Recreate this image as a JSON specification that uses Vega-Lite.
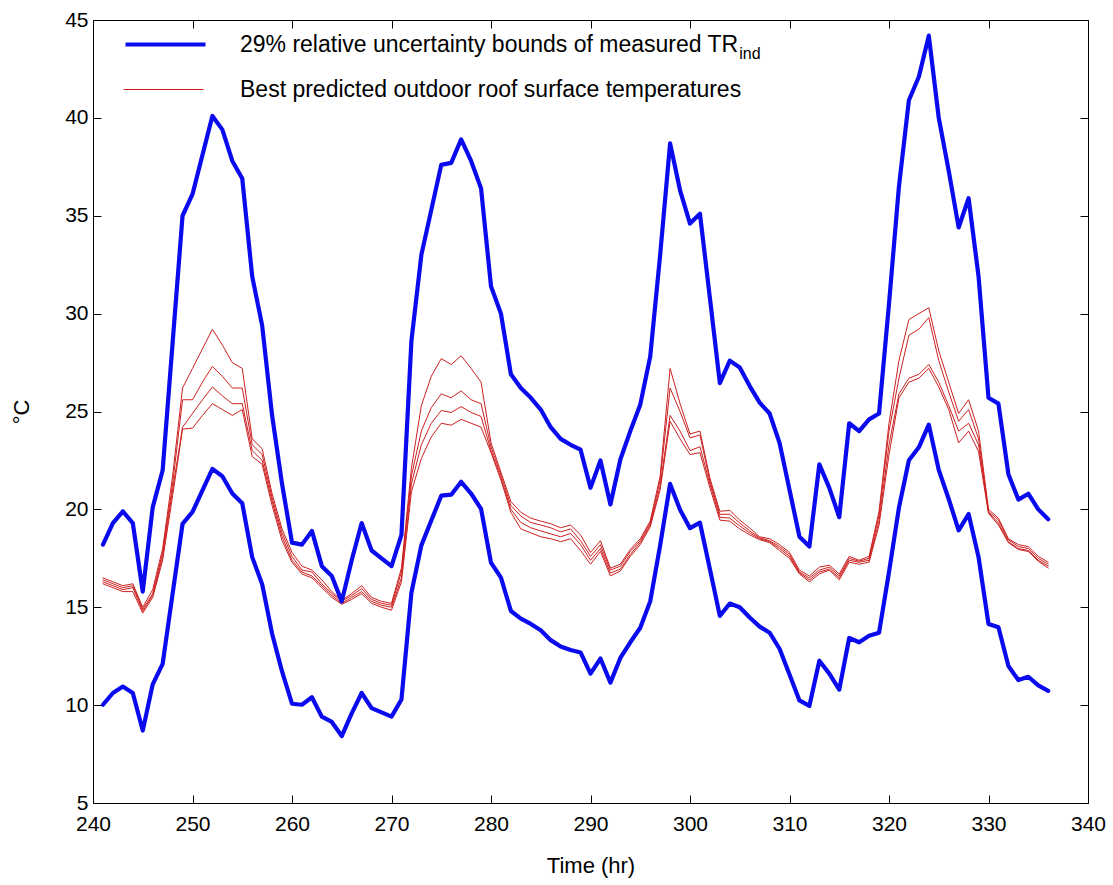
{
  "$schema": "https://vega.github.io/schema/vega-lite/v6.json",
  "autosize": "none",
  "width": 995,
  "height": 783,
  "padding": {"left": 93, "top": 20, "right": 25, "bottom": 82},
  "background": "white",
  "config": {
    "font": "Liberation Sans",
    "view": {"stroke": "black", "strokeWidth": 1},
    "axis": {
      "domainColor": "black", "tickColor": "black", "labelColor": "black", "titleColor": "black",
      "labelFont": "Liberation Sans", "titleFont": "Liberation Sans",
      "labelFontSize": 21, "titleFontSize": 22, "titleFontWeight": "normal",
      "grid": false, "tickSize": -8, "domainWidth": 1, "tickWidth": 1, "labelFlush": false
    }
  },
  "data": {"values": [
    {"t":241,"up":18.2,"lo":10.02,"r1":16.5,"r2":16.4,"r3":16.3,"r4":16.2},
    {"t":242,"up":19.3,"lo":10.62,"r1":16.3,"r2":16.2,"r3":16.1,"r4":16.0},
    {"t":243,"up":19.9,"lo":10.95,"r1":16.1,"r2":16.0,"r3":15.9,"r4":15.8},
    {"t":244,"up":19.3,"lo":10.62,"r1":16.2,"r2":16.1,"r3":16.0,"r4":15.8},
    {"t":245,"up":15.8,"lo":8.70,"r1":15.0,"r2":14.9,"r3":14.8,"r4":14.7},
    {"t":246,"up":20.1,"lo":11.06,"r1":15.9,"r2":15.7,"r3":15.6,"r4":15.5},
    {"t":247,"up":22.0,"lo":12.11,"r1":18.0,"r2":17.8,"r3":17.6,"r4":17.4},
    {"t":248,"up":28.5,"lo":15.69,"r1":21.7,"r2":21.3,"r3":21.0,"r4":20.7},
    {"t":249,"up":35.0,"lo":19.26,"r1":26.2,"r2":25.6,"r3":24.2,"r4":24.1},
    {"t":250,"up":36.1,"lo":19.87,"r1":27.2,"r2":25.6,"r3":24.9,"r4":24.15},
    {"t":251,"up":38.1,"lo":20.97,"r1":28.2,"r2":26.5,"r3":25.6,"r4":24.8},
    {"t":252,"up":40.1,"lo":22.07,"r1":29.2,"r2":27.3,"r3":26.25,"r4":25.4},
    {"t":253,"up":39.4,"lo":21.69,"r1":28.4,"r2":26.8,"r3":25.8,"r4":25.1},
    {"t":254,"up":37.8,"lo":20.81,"r1":27.5,"r2":26.2,"r3":25.4,"r4":24.8},
    {"t":255,"up":36.9,"lo":20.31,"r1":27.2,"r2":26.2,"r3":25.4,"r4":25.1},
    {"t":256,"up":31.9,"lo":17.56,"r1":23.6,"r2":23.3,"r3":23.0,"r4":22.7},
    {"t":257,"up":29.4,"lo":16.18,"r1":23.1,"r2":22.8,"r3":22.5,"r4":22.3},
    {"t":258,"up":24.8,"lo":13.65,"r1":20.8,"r2":20.6,"r3":20.4,"r4":20.2},
    {"t":259,"up":21.3,"lo":11.72,"r1":19.0,"r2":18.8,"r3":18.6,"r4":18.4},
    {"t":260,"up":18.3,"lo":10.07,"r1":17.8,"r2":17.6,"r3":17.4,"r4":17.3},
    {"t":261,"up":18.2,"lo":10.02,"r1":17.1,"r2":16.9,"r3":16.8,"r4":16.7},
    {"t":262,"up":18.9,"lo":10.40,"r1":16.9,"r2":16.8,"r3":16.6,"r4":16.5},
    {"t":263,"up":17.1,"lo":9.41,"r1":16.4,"r2":16.2,"r3":16.1,"r4":16.0},
    {"t":264,"up":16.6,"lo":9.14,"r1":15.8,"r2":15.7,"r3":15.6,"r4":15.5},
    {"t":265,"up":15.3,"lo":8.42,"r1":15.35,"r2":15.3,"r3":15.2,"r4":15.15},
    {"t":266,"up":17.4,"lo":9.58,"r1":15.7,"r2":15.6,"r3":15.5,"r4":15.4},
    {"t":267,"up":19.3,"lo":10.62,"r1":16.1,"r2":15.95,"r3":15.8,"r4":15.7},
    {"t":268,"up":17.9,"lo":9.85,"r1":15.5,"r2":15.4,"r3":15.3,"r4":15.2},
    {"t":269,"up":17.5,"lo":9.63,"r1":15.3,"r2":15.2,"r3":15.1,"r4":15.0},
    {"t":270,"up":17.1,"lo":9.41,"r1":15.2,"r2":15.1,"r3":15.0,"r4":14.85},
    {"t":271,"up":18.7,"lo":10.29,"r1":17.0,"r2":16.8,"r3":16.5,"r4":16.3},
    {"t":272,"up":28.6,"lo":15.74,"r1":22.1,"r2":21.7,"r3":21.3,"r4":20.9},
    {"t":273,"up":33.0,"lo":18.16,"r1":25.3,"r2":24.0,"r3":23.3,"r4":22.6},
    {"t":274,"up":35.3,"lo":19.43,"r1":26.8,"r2":25.2,"r3":24.4,"r4":23.7},
    {"t":275,"up":37.6,"lo":20.70,"r1":27.7,"r2":25.9,"r3":25.05,"r4":24.4},
    {"t":276,"up":37.7,"lo":20.75,"r1":27.4,"r2":25.7,"r3":24.95,"r4":24.3},
    {"t":277,"up":38.9,"lo":21.41,"r1":27.85,"r2":26.05,"r3":25.25,"r4":24.6},
    {"t":278,"up":37.8,"lo":20.81,"r1":27.2,"r2":25.6,"r3":24.95,"r4":24.4},
    {"t":279,"up":36.4,"lo":20.03,"r1":26.5,"r2":25.4,"r3":24.75,"r4":24.2},
    {"t":280,"up":31.4,"lo":17.28,"r1":23.4,"r2":23.2,"r3":23.0,"r4":22.9},
    {"t":281,"up":30.0,"lo":16.51,"r1":21.9,"r2":21.75,"r3":21.6,"r4":21.5},
    {"t":282,"up":26.9,"lo":14.81,"r1":20.4,"r2":20.2,"r3":20.0,"r4":19.85},
    {"t":283,"up":26.2,"lo":14.42,"r1":19.85,"r2":19.65,"r3":19.33,"r4":19.0},
    {"t":284,"up":25.7,"lo":14.15,"r1":19.55,"r2":19.33,"r3":19.06,"r4":18.8},
    {"t":285,"up":25.1,"lo":13.82,"r1":19.4,"r2":19.2,"r3":18.9,"r4":18.6},
    {"t":286,"up":24.2,"lo":13.32,"r1":19.27,"r2":19.06,"r3":18.75,"r4":18.5},
    {"t":287,"up":23.6,"lo":12.99,"r1":19.06,"r2":18.85,"r3":18.6,"r4":18.35},
    {"t":288,"up":23.3,"lo":12.82,"r1":19.2,"r2":19.0,"r3":18.77,"r4":18.5},
    {"t":289,"up":23.05,"lo":12.69,"r1":18.7,"r2":18.4,"r3":18.2,"r4":17.9},
    {"t":290,"up":21.1,"lo":11.61,"r1":17.8,"r2":17.6,"r3":17.4,"r4":17.2},
    {"t":291,"up":22.5,"lo":12.38,"r1":18.4,"r2":18.2,"r3":18.0,"r4":17.85},
    {"t":292,"up":20.25,"lo":11.15,"r1":17.0,"r2":16.9,"r3":16.75,"r4":16.6},
    {"t":293,"up":22.55,"lo":12.41,"r1":17.2,"r2":17.1,"r3":16.95,"r4":16.85},
    {"t":294,"up":24.0,"lo":13.21,"r1":17.95,"r2":17.85,"r3":17.7,"r4":17.6},
    {"t":295,"up":25.35,"lo":13.95,"r1":18.5,"r2":18.4,"r3":18.3,"r4":18.2},
    {"t":296,"up":27.8,"lo":15.30,"r1":19.4,"r2":19.3,"r3":19.2,"r4":19.1},
    {"t":297,"up":33.0,"lo":18.16,"r1":21.7,"r2":21.5,"r3":21.2,"r4":21.0},
    {"t":298,"up":38.7,"lo":21.30,"r1":27.2,"r2":26.2,"r3":24.8,"r4":24.5},
    {"t":299,"up":36.3,"lo":19.98,"r1":25.4,"r2":25.0,"r3":24.0,"r4":23.6},
    {"t":300,"up":34.6,"lo":19.04,"r1":23.85,"r2":23.65,"r3":23.0,"r4":22.8},
    {"t":301,"up":35.1,"lo":19.32,"r1":24.0,"r2":23.8,"r3":23.2,"r4":22.9},
    {"t":302,"up":30.8,"lo":16.95,"r1":21.6,"r2":21.45,"r3":21.3,"r4":21.1},
    {"t":303,"up":26.45,"lo":14.56,"r1":19.9,"r2":19.75,"r3":19.6,"r4":19.45},
    {"t":304,"up":27.6,"lo":15.19,"r1":19.95,"r2":19.75,"r3":19.55,"r4":19.4},
    {"t":305,"up":27.25,"lo":15.00,"r1":19.45,"r2":19.3,"r3":19.15,"r4":19.0},
    {"t":306,"up":26.3,"lo":14.48,"r1":19.05,"r2":18.9,"r3":18.8,"r4":18.7},
    {"t":307,"up":25.45,"lo":14.01,"r1":18.6,"r2":18.55,"r3":18.5,"r4":18.45},
    {"t":308,"up":24.9,"lo":13.70,"r1":18.5,"r2":18.4,"r3":18.35,"r4":18.3},
    {"t":309,"up":23.4,"lo":12.88,"r1":18.2,"r2":18.1,"r3":18.0,"r4":17.9},
    {"t":310,"up":21.0,"lo":11.56,"r1":17.8,"r2":17.7,"r3":17.6,"r4":17.5},
    {"t":311,"up":18.6,"lo":10.24,"r1":16.9,"r2":16.8,"r3":16.75,"r4":16.7},
    {"t":312,"up":18.1,"lo":9.96,"r1":16.6,"r2":16.5,"r3":16.4,"r4":16.3},
    {"t":313,"up":22.3,"lo":12.27,"r1":17.05,"r2":16.9,"r3":16.8,"r4":16.7},
    {"t":314,"up":21.1,"lo":11.61,"r1":17.15,"r2":17.05,"r3":16.95,"r4":16.9},
    {"t":315,"up":19.6,"lo":10.79,"r1":16.7,"r2":16.6,"r3":16.5,"r4":16.4},
    {"t":316,"up":24.4,"lo":13.43,"r1":17.6,"r2":17.5,"r3":17.4,"r4":17.3},
    {"t":317,"up":24.0,"lo":13.21,"r1":17.4,"r2":17.35,"r3":17.3,"r4":17.2},
    {"t":318,"up":24.6,"lo":13.54,"r1":17.6,"r2":17.5,"r3":17.4,"r4":17.3},
    {"t":319,"up":24.9,"lo":13.70,"r1":19.9,"r2":19.7,"r3":19.4,"r4":19.2},
    {"t":320,"up":30.5,"lo":16.79,"r1":24.4,"r2":24.0,"r3":23.3,"r4":22.8},
    {"t":321,"up":36.5,"lo":20.09,"r1":27.6,"r2":26.7,"r3":25.9,"r4":25.7},
    {"t":322,"up":40.9,"lo":22.51,"r1":29.7,"r2":28.9,"r3":26.7,"r4":26.5},
    {"t":323,"up":42.1,"lo":23.17,"r1":30.0,"r2":29.2,"r3":26.9,"r4":26.7},
    {"t":324,"up":44.2,"lo":24.33,"r1":30.3,"r2":29.8,"r3":27.4,"r4":27.2},
    {"t":325,"up":40.0,"lo":22.02,"r1":28.1,"r2":27.6,"r3":26.5,"r4":26.25},
    {"t":326,"up":37.3,"lo":20.53,"r1":26.5,"r2":26.0,"r3":25.3,"r4":25.1},
    {"t":327,"up":34.4,"lo":18.93,"r1":24.9,"r2":24.5,"r3":24.0,"r4":23.4},
    {"t":328,"up":35.9,"lo":19.76,"r1":25.6,"r2":25.1,"r3":24.4,"r4":24.0},
    {"t":329,"up":31.9,"lo":17.56,"r1":24.0,"r2":23.6,"r3":23.3,"r4":22.95},
    {"t":330,"up":25.7,"lo":14.15,"r1":20.0,"r2":19.9,"r3":19.85,"r4":19.8},
    {"t":331,"up":25.4,"lo":13.98,"r1":19.55,"r2":19.45,"r3":19.3,"r4":19.2},
    {"t":332,"up":21.8,"lo":12.00,"r1":18.5,"r2":18.45,"r3":18.35,"r4":18.3},
    {"t":333,"up":20.5,"lo":11.28,"r1":18.2,"r2":18.1,"r3":18.0,"r4":17.95},
    {"t":334,"up":20.8,"lo":11.45,"r1":18.1,"r2":18.0,"r3":17.9,"r4":17.85},
    {"t":335,"up":20.0,"lo":11.01,"r1":17.6,"r2":17.5,"r3":17.4,"r4":17.35},
    {"t":336,"up":19.5,"lo":10.73,"r1":17.3,"r2":17.2,"r3":17.1,"r4":17.0}
  ]},
  "resolve": {"axis": {"x": "independent", "y": "independent"}},
  "layer": [
    {
      "transform": [{"fold": ["r1", "r2", "r3", "r4", "up", "lo"], "as": ["line", "v"]}],
      "mark": {"type": "line", "strokeJoin": "round", "strokeCap": "round", "color": "#cc2020"},
      "encoding": {
        "x": {"field": "t", "type": "quantitative",
              "scale": {"domain": [240, 340], "nice": false, "zero": false},
              "axis": {"orient": "bottom", "values": [240,250,260,270,280,290,300,310,320,330,340], "title": "Time (hr)", "labelPadding": 18, "titlePadding": 21}},
        "y": {"field": "v", "type": "quantitative",
              "scale": {"domain": [5, 45], "nice": false, "zero": false},
              "axis": {"orient": "left", "values": [5,10,15,20,25,30,35,40,45], "title": "°C", "labelPadding": 13, "titlePadding": 31}},
        "detail": {"field": "line"},
        "order": {"field": "line"},
        "color": {"field": "line", "type": "nominal",
                  "scale": {"domain": ["up", "lo", "r1", "r2", "r3", "r4"], "range": ["#0a0aee", "#0a0aee", "#cc2020", "#cc2020", "#cc2020", "#cc2020"]},
                  "legend": {"orient": "none", "legendX": 30, "legendY": -18, "values": ["up"], "title": null,
                             "labelExpr": "'29% relative uncertainty bounds of measured TR'",
                             "labelFont": "Liberation Sans", "labelFontSize": 23, "labelColor": "black", "labelLimit": 0,
                             "symbolType": "stroke", "symbolSize": 6400, "symbolStrokeWidth": 4.2, "labelOffset": 32, "padding": 0}},
        "strokeWidth": {"field": "line", "type": "nominal",
                        "scale": {"type": "ordinal", "domain": ["r1", "r2", "r3", "r4", "up", "lo"], "range": [1, 1, 1, 1, 4.2, 4.2]},
                        "legend": {"orient": "none", "legendX": 30, "legendY": 29, "values": ["r1"], "title": null,
                             "labelExpr": "'Best predicted outdoor roof surface temperatures'",
                             "labelFont": "Liberation Sans", "labelFontSize": 23, "labelColor": "black", "labelLimit": 0,
                             "symbolType": "stroke", "symbolSize": 6400, "symbolStrokeColor": "#cc2020", "labelOffset": 36, "padding": 0}}
      }
    },
    {
      "data": {"values": [{"label": "ind"}]},
      "mark": {"type": "text", "align": "left", "baseline": "alphabetic", "fontSize": 16, "font": "Liberation Sans", "color": "black"},
      "encoding": {
        "text": {"field": "label"},
        "x": {"datum": 304.95, "type": "quantitative", "axis": null},
        "y": {"datum": 43.0, "type": "quantitative", "axis": null}
      }
    },
    {
      "mark": {"type": "line", "opacity": 0},
      "encoding": {
        "x": {"field": "t", "type": "quantitative",
              "axis": {"orient": "top", "values": [240,250,260,270,280,290,300,310,320,330,340], "labels": false, "title": null, "domain": false}},
        "y": {"field": "up", "type": "quantitative",
              "axis": {"orient": "right", "values": [5,10,15,20,25,30,35,40,45], "labels": false, "title": null, "domain": false}}
      }
    }
  ]
}
